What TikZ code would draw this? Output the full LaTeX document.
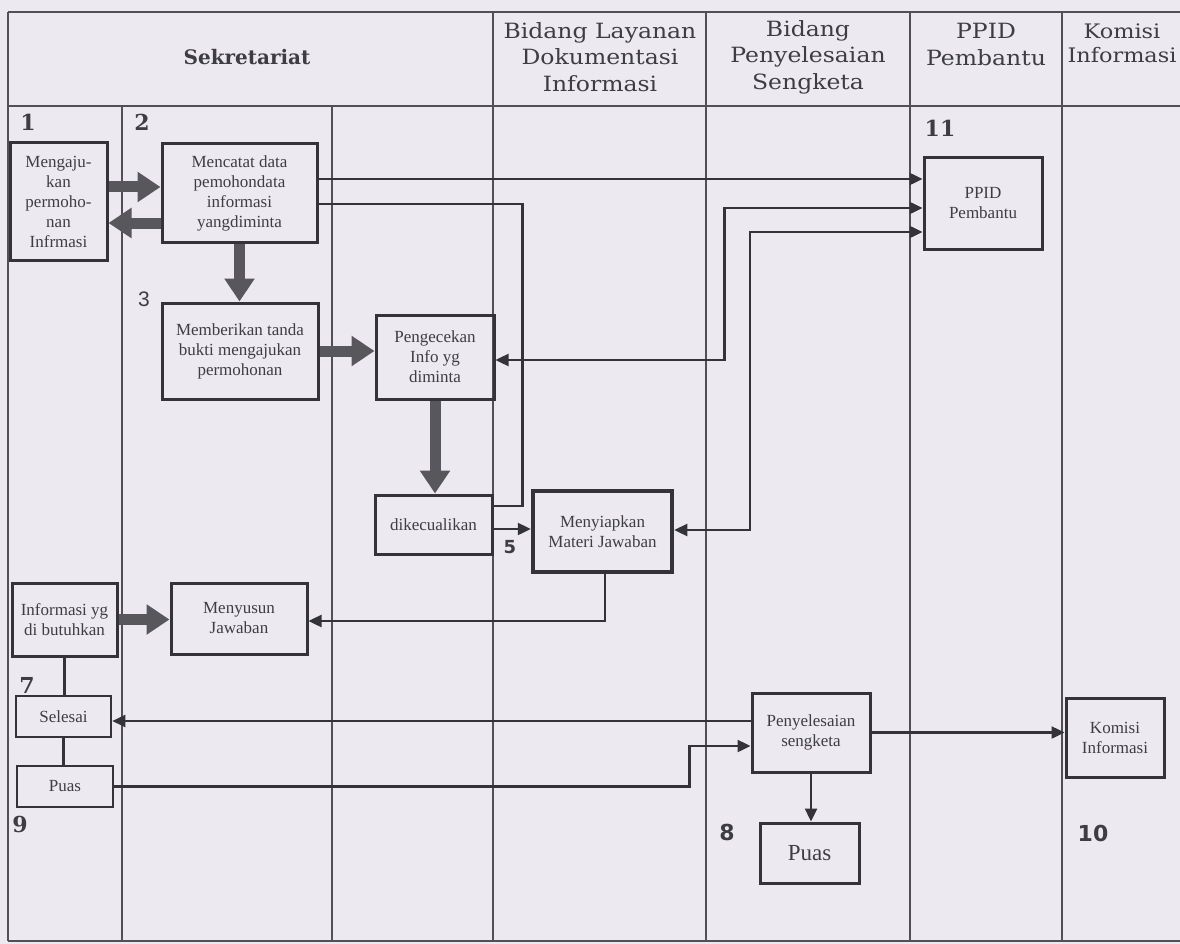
\documentclass[tikz,border=0pt]{standalone}
\usepackage{fontspec}
\setmainfont{Liberation Serif}
\newfontfamily\hdrfont{DejaVu Serif}
\newfontfamily\hdrwide[FakeStretch=1.12]{DejaVu Serif}
\newfontfamily\dsans{DejaVu Sans}
\newfontfamily\lsans{Liberation Sans}
\usetikzlibrary{arrows.meta}
\definecolor{bgc}{RGB}{236,234,240}
\definecolor{ink}{RGB}{52,52,56}
\definecolor{fatgrey}{RGB}{88,88,92}
\definecolor{txt}{RGB}{62,62,66}
\definecolor{rulec}{RGB}{80,80,86}
\begin{document}
\begin{tikzpicture}[x=1pt,y=-1pt,
  box/.style={draw=ink, line width=3pt, inner sep=0pt, align=center, text=txt,
    font=\fontsize{17}{20}\selectfont},
  fatarrow/.style={draw=fatgrey, line width=11pt, -{Triangle[width=29pt,length=23pt,fill=fatgrey]}},
  conn/.style={draw=ink, line width=2.4pt, -{Triangle[width=12pt,length=13pt]}},
  plainconn/.style={draw=ink, line width=2.4pt},
  bothconn/.style={draw=ink, line width=2.4pt, {Triangle[width=12pt,length=13pt]}-{Triangle[width=12pt,length=13pt]}},
  hdr/.style={align=center, text=txt, font=\hdrwide\fontsize{21}{26.5}\selectfont},
  numserif/.style={text=txt, font=\hdrfont\bfseries\fontsize{22}{22}\selectfont},
  numsans/.style={text=txt, font=\dsans\bfseries\fontsize{22}{22}\selectfont},
  tablerule/.style={draw=rulec, line width=1.2pt}
]
\fill[bgc] (0,0) rectangle (1180,944);
\useasboundingbox (0,0) rectangle (1180,944);

% table
\draw[tablerule] (8,12) -- (1180,12);
\draw[tablerule] (8,106) -- (1180,106);
\draw[tablerule] (8,941) -- (1180,941);
\foreach \xx in {8,493,706,910,1062} \draw[tablerule] (\xx,12) -- (\xx,941);
\foreach \xx in {122,332} \draw[tablerule] (\xx,106) -- (\xx,941);

% headers
\node[hdr, font=\hdrfont\bfseries\fontsize{20}{26.5}\selectfont] (hS) at (247,57) {Sekretariat};
\node[hdr] (hB) at (600,57) {Bidang Layanan\\Dokumentasi\\Informasi};
\node[hdr] (hP) at (808,57) {Bidang\\Penyelesaian\\Sengketa};
\node[hdr, anchor=north] (hD) at (986,20) {PPID\\Pembantu};
\node[hdr, anchor=north, font=\hdrwide\fontsize{20}{24}\selectfont] (hK) at (1122,20) {Komisi\\Informasi};

% numbers
\node[numserif] (n1) at (28,122) {1};
\node[numserif] (n2) at (142,122) {2};
\node[text=txt, font=\lsans\fontsize{21}{21}\selectfont] (n3) at (144,299) {3};
\node[numsans, font=\dsans\bfseries\fontsize{18}{18}\selectfont] (n5) at (510,547) {5};
\node[numserif] (n7) at (27,685) {7};
\node[numsans] (n8) at (727,832) {8};
\node[numserif] (n9) at (20,824) {9};
\node[numsans] (n10) at (1093,833) {10};
\node[numserif] (n11) at (940,128) {11};

% boxes
\node[box, minimum width=97pt, minimum height=117pt] (b1) at (58.5,201.5) {Mengaju-\\kan\\permoho-\\nan\\Infrmasi};
\node[box, minimum width=155pt, minimum height=98pt] (b2) at (239.5,193) {Mencatat data\\pemohondata\\informasi\\yangdiminta};
\node[box, minimum width=156pt, minimum height=96pt] (b3) at (240,351) {Memberikan tanda\\bukti mengajukan\\permohonan};
\node[box, minimum width=118pt, minimum height=84pt] (b4) at (435,357) {Pengecekan\\Info yg\\diminta};
\node[box, minimum width=117pt, minimum height=59pt] (b5) at (433.5,524.5) {dikecualikan};
\node[box, line width=4.5pt, minimum width=139pt, minimum height=81pt] (b6) at (602.5,531.5) {Menyiapkan\\Materi Jawaban};
\node[box, minimum width=118pt, minimum height=91pt] (b7) at (983,203.5) {PPID\\Pembantu};
\node[box, minimum width=105pt, minimum height=73pt] (b8) at (64.5,619.5) {Informasi yg\\di butuhkan};
\node[box, minimum width=136pt, minimum height=71pt] (b9) at (239,618.5) {Menyusun\\Jawaban};
\node[box, line width=2.6pt, minimum width=95pt, minimum height=41pt] (b10) at (63.5,716.5) {Selesai};
\node[box, line width=2.6pt, minimum width=96pt, minimum height=41pt] (b11) at (65,786.5) {Puas};
\node[box, minimum width=118pt, minimum height=79pt] (b12) at (811,732.5) {Penyelesaian\\sengketa};
\node[box, minimum width=99pt, minimum height=60pt, font=\fontsize{23}{26}\selectfont] (b13) at (809.5,853) {Puas};
\node[box, minimum width=98pt, minimum height=79pt] (b14) at (1115,737.5) {Komisi\\Informasi};

% fat arrows
\draw[fatarrow] ([yshift=14.5pt]b1.east) -- ([yshift=6pt]b2.west);
\draw[fatarrow] ([yshift=-30pt]b2.west) -- ([yshift=-21.5pt]b1.east);
\draw[fatarrow] (b2.south) -- (b2.south |- b3.north);
\draw[fatarrow] (b3.east) -- (b3.east -| b4.west);
\draw[fatarrow] (b4.south) -- (b4.south |- b5.north);
\draw[fatarrow] (b8.east) -- (b8.east -| b9.west);

% thin connectors
\draw[conn] ([yshift=14pt]b2.east) -- ([yshift=14pt]b2.east -| b7.west);
\draw[plainconn] ([yshift=-11pt]b2.east) -- ++(204pt,0) |- ([yshift=18.5pt]b5.east);
\draw[bothconn] ([yshift=-3pt]b4.east) -- ++(229pt,0) |- ([yshift=-4.5pt]b7.west);
\draw[bothconn] ([yshift=1.5pt]b6.east) -- ++(76pt,0) |- ([yshift=-28.5pt]b7.west);
\draw[conn] ([yshift=-4.5pt]b5.east) -- ([yshift=-4.5pt]b5.east -| b6.west);
\draw[conn] ([xshift=2.5pt]b6.south) |- ([yshift=-2.5pt]b9.east);
\draw[plainconn] (b8.south) -- (b8.south |- b10.north);
\draw[plainconn] (b10.south) -- (b10.south |- b11.north);
\draw[conn] ([yshift=11.5pt]b12.west) -- ([yshift=11.5pt]b12.west -| b10.east);
\draw[conn] (b11.east) -- ++(575pt,0) |- ([yshift=-13.5pt]b12.west);
\draw[conn] (b12.east) -- (b12.east -| b14.west);
\draw[conn] (b12.south) -- (b12.south |- b13.north);
\end{tikzpicture}
\end{document}
